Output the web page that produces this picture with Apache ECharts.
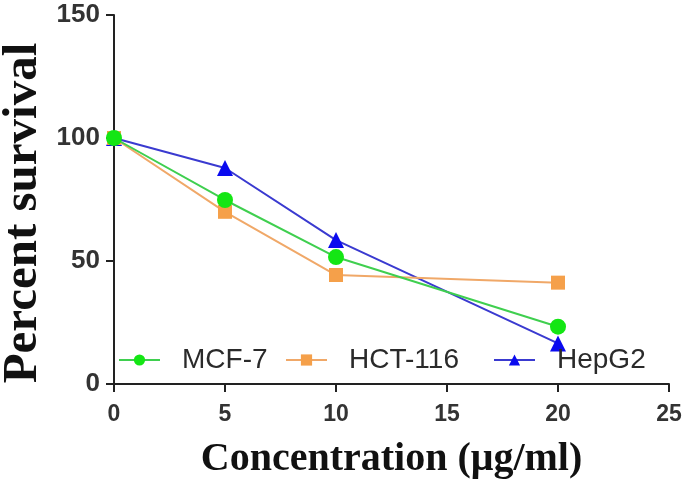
<!DOCTYPE html>
<html><head><meta charset="utf-8">
<script src="https://cdn.jsdelivr.net/npm/echarts@6/dist/echarts.min.js"></script>
<style>html,body{margin:0;padding:0;background:#fff}#c{width:685px;height:487px}</style>
</head><body><div id="c"></div>
<script>
const concentrations = [0, 5, 10, 20];
const mcf7 = [100, 74.8, 51.6, 23.3];
const hct116 = [100, 70.0, 44.3, 41.2];
const hepg2 = [100, 87.8, 58.5, 16.5];
const seriesNames = ['MCF-7', 'HCT-116', 'HepG2'];
const xTitle = 'Concentration (μg/ml)';
const yTitle = 'Percent survival';

const pair = arr => concentrations.map((x, i) => [x, arr[i]]);
const legendBase = (name, left) => ({
  left: left, top: 346, padding: 0, itemWidth: 41, itemHeight: 14,
  textStyle: { fontFamily: 'Liberation Sans', fontSize: 28, color: '#2a2a2a', padding: [0, 0, 0, 17] },
  data: [name]
});
const chart = echarts.init(document.getElementById('c'));
chart.setOption({
  animation: false,
  grid: { left: 114, right: 16, top: 15, bottom: 103 },
  legend: [legendBase(seriesNames[0], 118), legendBase(seriesNames[1], 285), legendBase(seriesNames[2], 493)],
  graphic: [{
    type: 'text', x: 23, y: 213, rotation: Math.PI / 2,
    style: { text: yTitle, fontFamily: 'Liberation Serif', fontWeight: 'bold', fontSize: 49, fill: '#111',
      align: 'center', verticalAlign: 'middle' }
  }],
  xAxis: {
    type: 'value', min: 0, max: 25, interval: 5,
    name: xTitle, nameLocation: 'middle', nameGap: 56,
    nameTextStyle: { fontFamily: 'Liberation Serif', fontWeight: 'bold', fontSize: 40, color: '#111' },
    axisLine: { lineStyle: { color: '#222', width: 2 } },
    axisTick: { lineStyle: { color: '#222', width: 2 }, length: 8 },
    axisLabel: { fontFamily: 'Liberation Sans', fontWeight: 'bold', fontSize: 23, color: '#333', margin: 19 },
    splitLine: { show: false }
  },
  yAxis: {
    type: 'value', min: 0, max: 150, interval: 50,
    axisLine: { show: true, lineStyle: { color: '#222', width: 2 } },
    axisTick: { show: true, lineStyle: { color: '#222', width: 2 }, length: 8 },
    axisLabel: { fontFamily: 'Liberation Sans', fontWeight: 'bold', fontSize: 26, color: '#333', margin: 14 },
    splitLine: { show: false }
  },
  series: [
    { name: seriesNames[0], type: 'line', data: pair(mcf7), symbol: 'circle', symbolSize: 16, z: 4,
      itemStyle: { color: '#14e614' }, lineStyle: { color: '#3fcf4f', width: 2 } },
    { name: seriesNames[1], type: 'line', data: pair(hct116), symbol: 'rect', symbolSize: 14, z: 3,
      itemStyle: { color: '#f5a04a' }, lineStyle: { color: '#f0a868', width: 2 } },
    { name: seriesNames[2], type: 'line', data: pair(hepg2), symbol: 'triangle', symbolSize: 16, z: 2,
      itemStyle: { color: '#0a0aef' }, lineStyle: { color: '#3a3ad0', width: 2 } }
  ]
});
</script></body></html>
